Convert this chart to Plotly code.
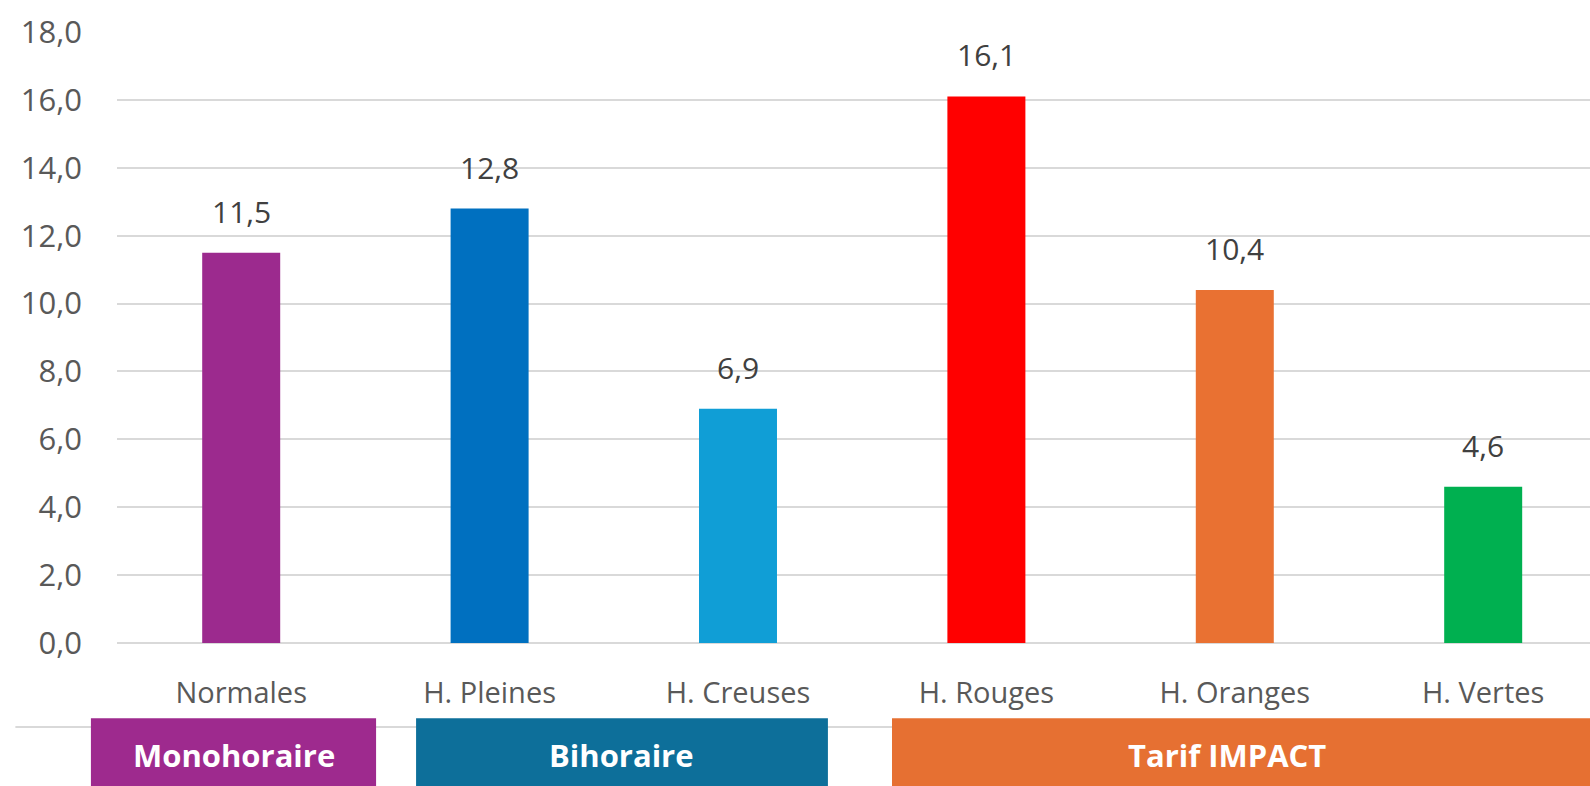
import plotly.graph_objects as go

categories = ["Normales", "H. Pleines", "H. Creuses", "H. Rouges", "H. Oranges", "H. Vertes"]
values = [11.5, 12.8, 6.9, 16.1, 10.4, 4.6]
bar_colors = ["#9C2A8E", "#0070C0", "#109ED6", "#FF0000", "#E97132", "#00B050"]
y_ticks = [0, 2, 4, 6, 8, 10, 12, 14, 16, 18]

groups = ["Monohoraire", "Bihoraire", "Tarif IMPACT"]
group_colors = ["#9E2A8E", "#0D6F9A", "#E67032"]
# box spans in category-axis units, and label centres
group_spans = [(-0.605, 0.543), (0.704, 2.362), (2.62, 5.45)]
group_label_x = [-0.03, 1.53, 3.97]

X_RANGE = [-0.5, 5.43]
FONT = "Open Sans"


def to_paper(x):
    return (x - X_RANGE[0]) / (X_RANGE[1] - X_RANGE[0])


fig = go.Figure()
fig.add_trace(go.Bar(
    x=list(range(len(categories))), y=values,
    marker=dict(color=bar_colors, line=dict(width=0)),
    width=0.314, hoverinfo="skip",
))

for i, v in enumerate(values):
    fig.add_annotation(x=i, y=v, xref="x", yref="y",
                       text=f"{v:.1f}".replace(".", ","),
                       showarrow=False, yanchor="bottom", yshift=19,
                       font=dict(family=FONT, size=30, color="#404040"))

# gray separator line
fig.add_shape(type="line", xref="paper", yref="paper",
              x0=-0.069, x1=1.0, y0=-0.1375, y1=-0.1375,
              line=dict(color="#D9D9D9", width=2), layer="below")

for g, col, (a, b), lx in zip(groups, group_colors, group_spans, group_label_x):
    fig.add_shape(type="rect", xref="paper", yref="paper",
                  x0=to_paper(a), x1=min(to_paper(b), 1.01), y0=-0.123, y1=-0.25,
                  fillcolor=col, line=dict(width=0), layer="above")
    fig.add_annotation(x=to_paper(lx), y=-0.1835, xref="paper", yref="paper",
                       text=f"<b>{g}</b>", showarrow=False,
                       xanchor="center", yanchor="middle",
                       font=dict(family=FONT, size=31, color="white"))

fig.update_layout(
    width=1590, height=786,
    margin=dict(l=117, r=0, t=32, b=143),
    paper_bgcolor="white", plot_bgcolor="white",
    separators=", ",
    showlegend=False,
    font=dict(family=FONT, color="#595959"),
)
fig.update_xaxes(
    range=X_RANGE,
    tickmode="array", tickvals=list(range(len(categories))), ticktext=categories,
    tickfont=dict(family=FONT, size=29, color="#595959"),
    showgrid=False, zeroline=False, showline=False,
    ticks="", ticklabelstandoff=30, fixedrange=True,
)
fig.update_yaxes(
    range=[0, 18], tickmode="array", tickvals=y_ticks, tickformat=".1f",
    tickfont=dict(family=FONT, size=31, color="#595959"),
    showgrid=True, gridcolor="#D9D9D9", gridwidth=2,
    zeroline=True, zerolinecolor="#D9D9D9", zerolinewidth=2,
    showline=False, ticks="", ticklabelstandoff=34, fixedrange=True,
)

fig.write_html("out.html", config={"displayModeBar": False})
